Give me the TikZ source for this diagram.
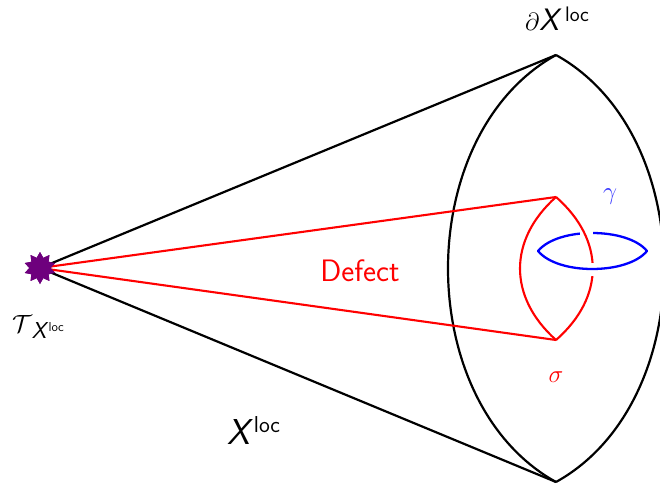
\documentclass[tikz,border=0pt]{standalone}
\usepackage{fontspec}
\usetikzlibrary{shapes.geometric}
\definecolor{starpurple}{RGB}{110,0,125}
\begin{document}
\begin{tikzpicture}[x=1pt,y=-1pt,
  blackline/.style={draw=black,line width=2.2pt,line join=round},
  redline/.style={draw=red,line width=2.1pt,line join=round},
  blueline/.style={draw=blue,line width=2.3pt,line join=round},
  apexstar/.style={star,star points=10,star point ratio=1.5,fill=starpurple,minimum size=32pt,inner sep=0pt},
  lbl/.style={inner sep=0pt}]
\useasboundingbox (0,0) rectangle (660,486);
\clip (0,0) rectangle (660,486);
\coordinate (top) at (556,55);
\coordinate (bot) at (556,482);
\coordinate (rtop) at (556,197);
\coordinate (rbot) at (556,340);
\coordinate (bl) at (538,251);
\coordinate (br) at (647,251);
\coordinate (bt) at (592,233);
\coordinate (bb) at (592,269);
% outer cone
\node[apexstar] (apex) at (40,268) {};
\draw[blackline] (apex.center) -- (top);
\draw[blackline] (apex.center) -- (bot);
\draw[blackline] (top) .. controls (412,135) and (412,402) .. (bot);
\draw[blackline] (top) .. controls (700,135) and (700,402) .. (bot);
% red defect
\draw[redline] (apex.center) -- (rtop);
\draw[redline] (apex.center) -- (rbot);
\node[apexstar] (apexb) at (40,268) {};
% blue loop with gap
\draw[blueline] (bl) .. controls (548,239) and (570,233) .. (bt) .. controls (615,233) and (637,239) .. (br)
  .. controls (637,263) and (615,269) .. (bb) .. controls (570,269) and (548,263) .. (bl) -- cycle;
\fill[white] (580,226) rectangle (593,240);
% red cone end
\draw[redline] (rtop) .. controls (508,240) and (508,297) .. (rbot);
\begin{scope}
\clip (500,180) rectangle (620,262);
\draw[redline] (rtop) .. controls (605,240) and (605,297) .. (rbot);
\end{scope}
\begin{scope}
\clip (500,276) rectangle (620,360);
\draw[redline] (rtop) .. controls (605,240) and (605,297) .. (rbot);
\end{scope}
% labels
\node[lbl,anchor=base,font=\fontsize{31}{34}\selectfont] (dx) at (557,31) {$\partial$\textsf{\textit{X}}\raisebox{9pt}{\sffamily\fontsize{21}{23}\selectfont\,loc}};
\node[lbl,anchor=base,font=\fontsize{30}{32}\selectfont] (tx) at (38,332) {$\mathcal{T}$\raisebox{-6pt}{\textsf{\textit{\fontsize{23}{24}\selectfont X}}}\raisebox{1pt}{\sffamily\fontsize{13}{15}\selectfont loc}};
\node[lbl,anchor=base] (xl) at (254,444) {\fontsize{36}{38}\selectfont\textsf{\textit{X}}\raisebox{12pt}{\sffamily\fontsize{23}{25}\selectfont loc}};
\node[lbl,anchor=base,text=red,font=\fontsize{31}{34}\selectfont\sffamily] (defect) at (360,281) {Defect};
\node[lbl,anchor=base,text=blue!80!white,font=\fontsize{34}{36}\selectfont] (gamma) at (610,200) {$\gamma$};
\node[lbl,anchor=base,text=red,font=\fontsize{33}{36}\selectfont] (sigma) at (556,382) {$\sigma$};
\end{tikzpicture}
\end{document}
